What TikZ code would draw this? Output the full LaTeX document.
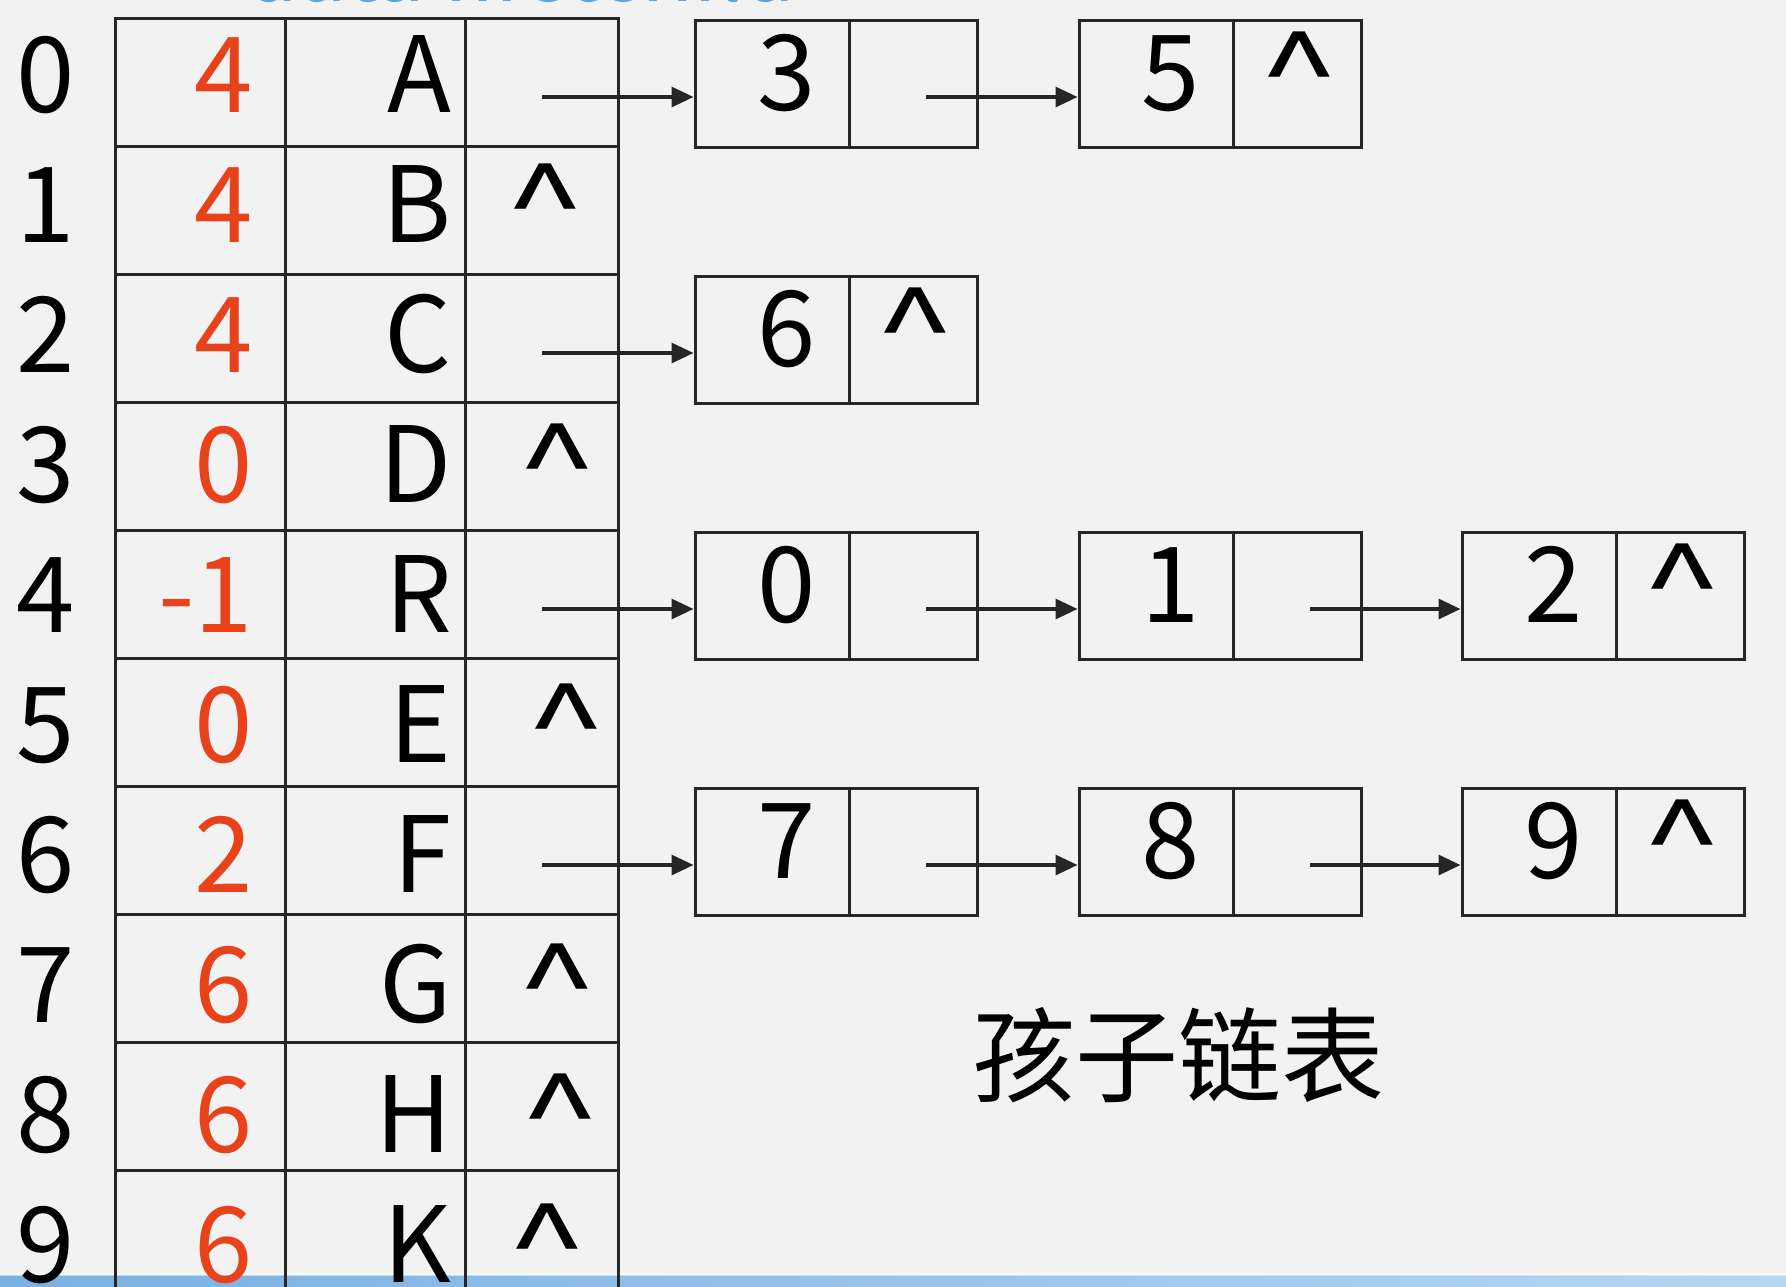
\documentclass[tikz,border=0pt]{standalone}
\usepackage{fontspec}
\setmainfont{Noto Sans CJK SC}
\usetikzlibrary{arrows.meta}
\definecolor{bg}{HTML}{F2F2F2}
\definecolor{ink}{HTML}{262626}
\definecolor{redn}{HTML}{E8421B}
\definecolor{hdrblue}{HTML}{5AA5EA}
\definecolor{barA}{HTML}{7AB0E3}
\definecolor{barB}{HTML}{B5D7F2}
\newcommand{\bigf}{\fontsize{105}{105}\selectfont}
\newcommand{\caret}{\scalebox{1.4}[1]{\^{}}}
\begin{document}
\begin{tikzpicture}[x=1pt,y=-1pt,
  cellbox/.style={draw=ink, line width=3pt, inner sep=0pt, minimum height=128pt},
  lbox/.style={draw=ink, line width=3pt, inner sep=0pt, minimum height=127pt},
  txt/.style={font=\bigf, inner sep=0pt, text=black},
  rtxt/.style={txt, text=redn},
  arr/.style={draw=ink, line width=3.2pt, -{Triangle[length=22pt,width=20pt]}}]
\useasboundingbox (0,0) rectangle (1786,1286);
\fill[bg] (0,0) rectangle (1786,1286);
\clip (0,0) rectangle (1786,1286);
% cut-off header text at the top
\node[anchor=base west, inner sep=0pt, text=hdrblue, font=\fontsize{86}{86}\selectfont] (hdr) at (245,1.5) {data firstchild};
% bottom blue bar
\shade[left color=barA, right color=barB] (0,1275) rectangle (1786,1286);
\fill[white, opacity=0.5] (0,1273) rectangle (1786,1276);
% table
\foreach \i in {0,...,9} {
  \node[cellbox, minimum width=170pt] (ca\i) at (200, 82+128*\i) {};
  \node[cellbox, minimum width=180pt] (cb\i) at (375, 82+128*\i) {};
  \node[cellbox, minimum width=153pt] (cc\i) at (541.5, 82+128*\i) {};
  \node[txt, anchor=base] (idx\i) at (46, 112+130*\i) {\i};
}
\foreach \i/\p/\d in {0/4/A,1/4/B,2/4/C,3/0/D,4/-1/R,5/0/E,6/2/F,7/6/G,8/6/H,9/6/K} {
  \node[rtxt, anchor=base east] (par\i) at (253, 112+130*\i) {\p};
  \node[txt, anchor=base east] (dat\i) at (452, 112+130*\i) {\d};
}
\foreach \i/\x in {1/545,3/557,5/566,7/557,8/560,9/547} {
  \node[txt, anchor=base] (nil\i) at (\x, 112+130*\i) {\caret};
}
% linked list boxes
\foreach \r/\k/\L/\v in {0/1/695/3, 0/2/1079/5, 2/1/695/6, 4/1/695/0, 4/2/1079/1, 4/3/1462/2, 6/1/695/7, 6/2/1079/8, 6/3/1462/9} {
  \node[lbox, minimum width=154pt] (a\r\k) at (\L+77, 84+128*\r) {};
  \node[lbox, minimum width=128pt] (b\r\k) at (\L+218, 84+128*\r) {};
  \node[txt, anchor=base] (v\r\k) at (\L+92, 110+128*\r) {\v};
}
\foreach \r/\k/\L in {0/2/1079, 2/1/695, 4/3/1462, 6/3/1462} {
  \node[txt, anchor=base] (e\r\k) at (\L+220, 110+128*\r) {\caret};
}
% arrow start points
\foreach \r in {0,2,4,6} {
  \coordinate (s\r) at (542, 97+128*\r);
}
\foreach \r/\k/\L in {0/1/695, 4/1/695, 4/2/1079, 6/1/695, 6/2/1079} {
  \coordinate (p\r\k) at (\L+231, 97+128*\r);
}
\draw[arr] (s0) -- (s0 -| a01.west);
\draw[arr] (p01) -- (p01 -| a02.west);
\draw[arr] (s2) -- (s2 -| a21.west);
\draw[arr] (s4) -- (s4 -| a41.west);
\draw[arr] (p41) -- (p41 -| a42.west);
\draw[arr] (p42) -- (p42 -| a43.west);
\draw[arr] (s6) -- (s6 -| a61.west);
\draw[arr] (p61) -- (p61 -| a62.west);
\draw[arr] (p62) -- (p62 -| a63.west);
% caption
\node[inner sep=0pt, font=\fontsize{103}{103}\selectfont] (title) at (1178,1055) {孩子链表};
\end{tikzpicture}
\end{document}
